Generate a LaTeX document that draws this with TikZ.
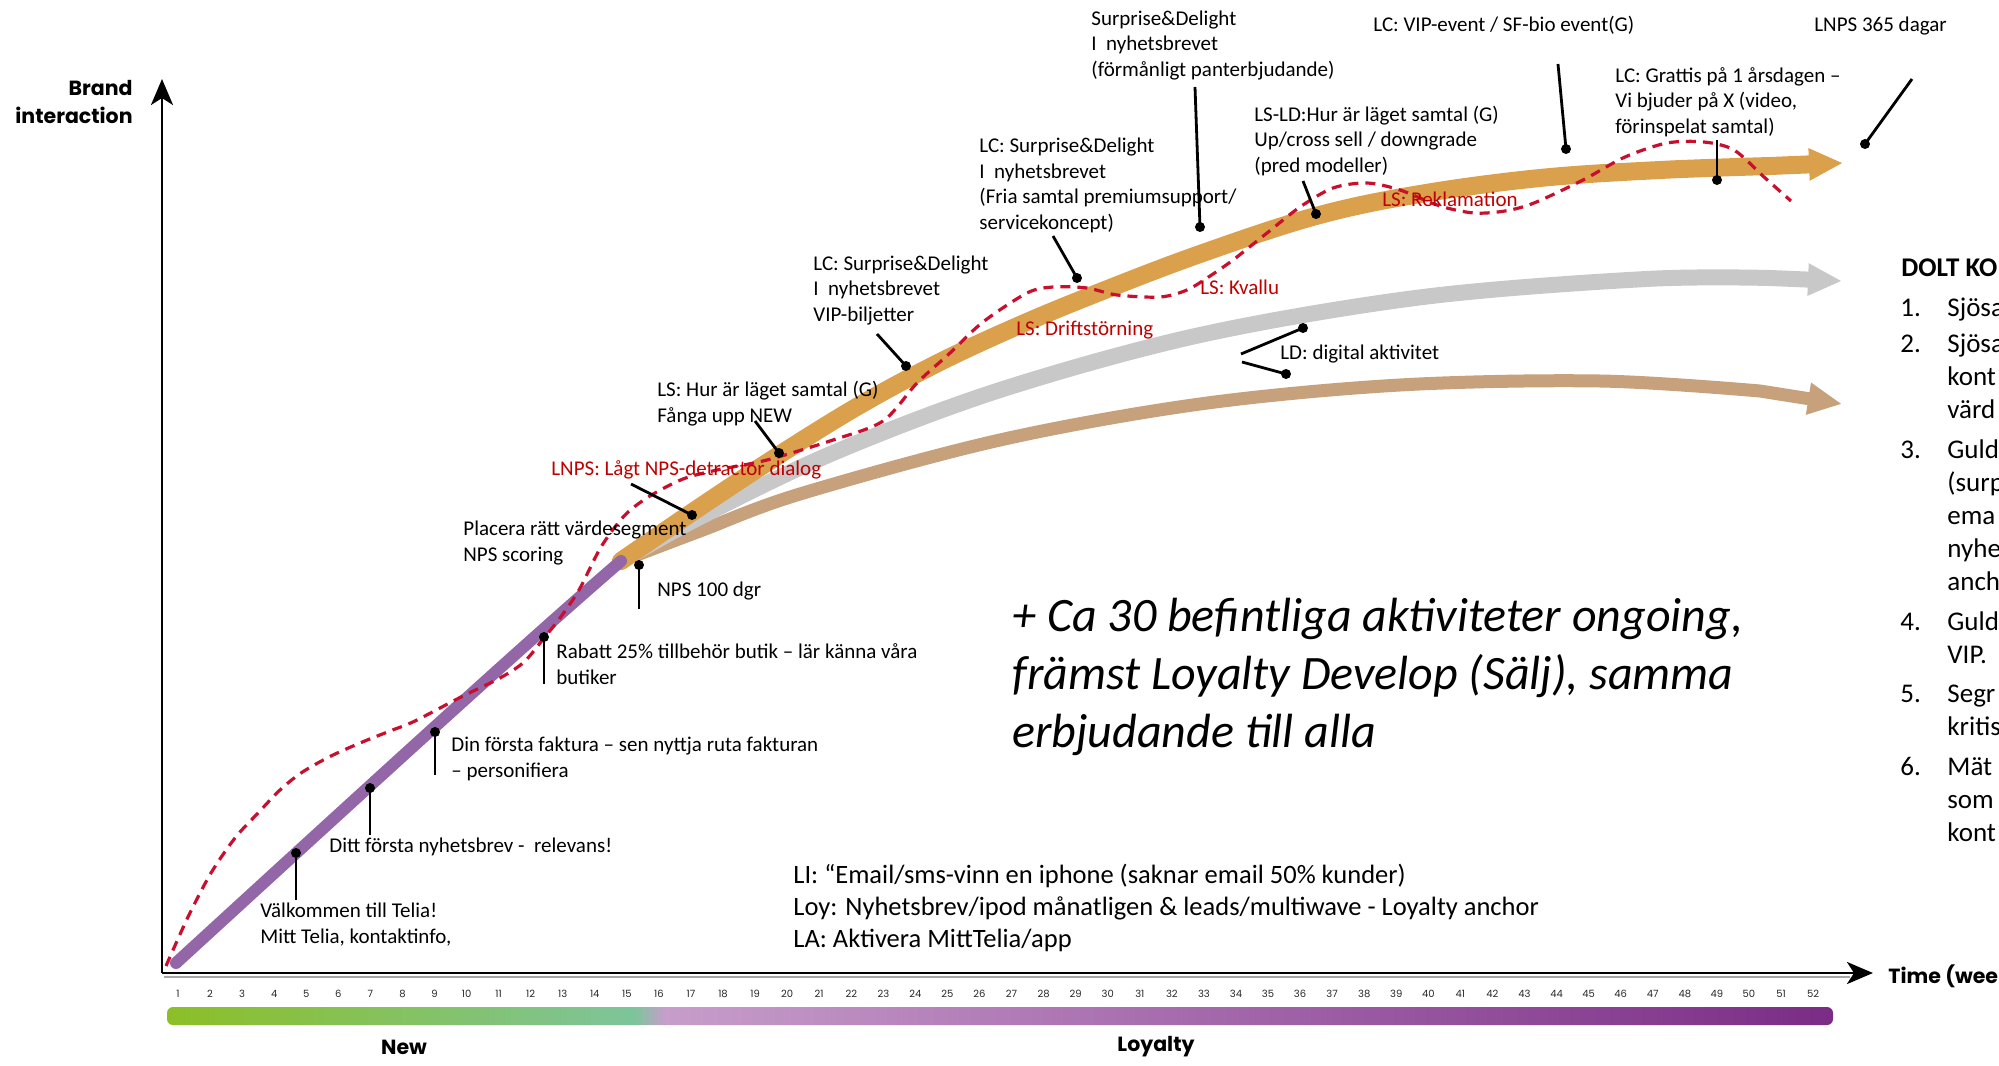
\documentclass[tikz,border=0pt]{standalone}
\usepackage{fontspec}
\setmainfont{Carlito}
\newfontfamily\axisfont{Poppins}
\usetikzlibrary{arrows.meta}

\definecolor{curvepurple}{HTML}{9366A8}
\definecolor{curveorange}{HTML}{DBA04C}
\definecolor{curvegray}{HTML}{C8C8C8}
\definecolor{curvetan}{HTML}{C6A17B}
\definecolor{dashred}{HTML}{C8102E}
\definecolor{notered}{HTML}{C00000}
\definecolor{barGreenA}{HTML}{8CBF26}
\definecolor{barGreenB}{HTML}{7EC49C}
\definecolor{barPurpleA}{HTML}{C79DCB}
\definecolor{barPurpleB}{HTML}{7B2C86}

% multi-line nodes are anchored on the baseline of their last line
\tikzset{
  note/.style={anchor=base west, align=left, inner sep=0pt,
    font=\fontsize{10.5}{12.75}\selectfont},
  rednote/.style={note, text=notered},
  dot/.style={circle, fill=black, inner sep=0pt, minimum size=5pt},
  pointer/.style={line width=1.4pt},
  axisline/.style={line width=1.4pt, -{Stealth[length=13pt,width=11pt,inset=3.5pt]}},
  axislabel/.style={font=\axisfont\bfseries\fontsize{10.25}{14}\selectfont, inner sep=0pt},
  phaselabel/.style={font=\axisfont\bfseries\fontsize{10.25}{12}\selectfont, inner sep=0pt},
  weeknum/.style={font=\axisfont\fontsize{5}{6}\selectfont, text=black!85, inner sep=0pt, anchor=base},
  bandtip/.style={-{Triangle[length=17pt,width=15pt]}},
  listtext/.style={anchor=base west, inner sep=0pt, font=\fontsize{13.5}{16.5}\selectfont},
}

\begin{document}
\begin{tikzpicture}[x=0.5pt, y=-0.5pt]
\useasboundingbox (0,0) rectangle (1999,1066);
\clip (0,0) rectangle (1999,1066);

% ---------- axes ----------
\coordinate (origin) at (162,973);
\coordinate (ytip) at (162,79);
\coordinate (xtip) at (1873,973);
\draw[line width=1pt, black!35] (164,976.5) -- (1850,976.5);
\draw[axisline] (origin) -- (ytip);
\draw[axisline] (origin) -- (xtip);
\node[axislabel, anchor=north east, align=right] (ylab) at (133,80) {Brand\\interaction};
\node[axislabel, anchor=base west] (xlab) at (1888,983) {Time (wee};

% ---------- week scale and phase bar ----------
\foreach \i in {1,...,52} {
  \node[weeknum] (w\i) at ({178+(\i-1)*32.06},997) {\i};
}
\begin{scope}
  \clip[rounded corners=3pt] (167,1007) rectangle (1833,1025);
  \shade[left color=barGreenA, right color=barGreenB] (167,1007) rectangle (636,1025);
  \shade[left color=barGreenB, right color=barPurpleA] (635,1007) rectangle (665,1025);
  \shade[left color=barPurpleA, right color=barPurpleB] (664,1007) rectangle (1833,1025);
\end{scope}
\node[phaselabel] (phNew) at (404,1047) {New};
\node[phaselabel] (phLoy) at (1156,1047) {Loyalty};

% ---------- journey bands ----------
\coordinate (split) at (621,561);
\draw[curvetan, line width=6.5pt, line cap=round, bandtip]
  plot[smooth, tension=0.55] coordinates {(621,561) (700,531) (800,494) (1000,440) (1200,404) (1400,385) (1600,381) (1760,391)} -- (1842,404);
\draw[curvegray, line width=8pt, line cap=round, bandtip]
  plot[smooth, tension=0.55] coordinates {(621,561) (700,517) (833,453) (1000,390) (1200,335) (1423,297) (1646,279) (1770,278)} -- (1842,281);
\draw[curveorange, line width=9pt, line cap=round, bandtip]
  plot[smooth, tension=0.6] coordinates {(621,561) (700,507) (779,455) (860,405) (940,362) (1020,325) (1100,292) (1200,254) (1316,216) (1420,194) (1540,178) (1660,170) (1770,166)} -- (1843,163);
\draw[curvepurple, line width=6pt, line cap=round]
  (176,963) .. controls (330,822) and (520,648) .. (split);

% ---------- actual experience (dashed) ----------
\draw[dashred, line width=1.6pt, dash pattern=on 5pt off 3.5pt]
  plot[smooth, tension=0.5] coordinates {(166,966) (188,917) (211,873) (235,838) (258,813) (280,790) (301,773) (329,757) (360,743) (390,731) (415,721) (461,697) (500,678) (524,662) (544,638) (560,618) (579,590) (601,547) (625,515) (650,496) (683,479) (717,470) (767,460) (833,440) (883,421) (917,383) (950,353) (983,322) (1027,293) (1053,287) (1087,288) (1117,295) (1160,297) (1187,290) (1210,276) (1233,260) (1267,233) (1300,207) (1333,188) (1367,183) (1400,190) (1440,206) (1474,213) (1505,211) (1534,203) (1583,180) (1625,157) (1667,143) (1704,142) (1734,150) (1764,177) (1791,201)};

% ---------- touchpoints ----------
\node[dot] (dWel) at (296,853) {};   \coordinate (sWel) at (296,900);
\node[dot] (dDitt) at (370,788) {};  \coordinate (sDitt) at (370,835);
\node[dot] (dDin) at (435,732) {};   \coordinate (sDin) at (435,775);
\node[dot] (dRab) at (544,637) {};   \coordinate (sRab) at (544,684);
\node[dot] (dNps) at (639,565) {};   \coordinate (sNps) at (639,609);
\node[dot] (dPla) at (692,515) {};   \coordinate (sPla) at (631,484);
\node[dot] (dHur) at (779,453) {};   \coordinate (sHur) at (755,421);
\node[dot] (dVip) at (906,366) {};   \coordinate (sVip) at (877,334);
\node[dot] (dFria) at (1077,278) {}; \coordinate (sFria) at (1053,236);
\node[dot] (dPant) at (1200,227) {}; \coordinate (sPant) at (1195,87);
\node[dot] (dPred) at (1316,214) {}; \coordinate (sPred) at (1303,181);
\node[dot] (dEvent) at (1566,149) {};\coordinate (sEvent) at (1558,64);
\node[dot] (dGrat) at (1717,180) {}; \coordinate (sGrat) at (1717,140);
\node[dot] (dYear) at (1865,144) {}; \coordinate (sYear) at (1912,79);
\node[dot] (dDigA) at (1303,328) {}; \coordinate (sDigA) at (1241,354);
\node[dot] (dDigB) at (1286,374) {}; \coordinate (sDigB) at (1242,362);

\foreach \p in {Wel,Ditt,Din,Rab,Nps,Pla,Hur,Vip,Fria,Pant,Pred,Event,Grat,Year,DigA,DigB}
  \draw[pointer] (d\p.center) -- (s\p);

% ---------- labels (y = baseline of the last line) ----------
\node[note] (tWel) at (260,943) {Välkommen till Telia!\\Mitt Telia, kontaktinfo,};
\node[note] (tDitt) at (329,852) {Ditt första nyhetsbrev -\ \ relevans!};
\node[note] (tDin) at (451,777) {Din första faktura – sen nyttja ruta fakturan\\– personifiera};
\node[note] (tRab) at (556,684) {Rabatt 25\% tillbehör butik – lär känna våra\\butiker};
\node[note] (tNps) at (657,596) {NPS 100 dgr};
\node[note] (tPla) at (463,561) {Placera rätt värdesegment\\NPS scoring};
\node[rednote] (tLnps) at (551,475) {LNPS: Lågt NPS-detractor dialog};
\node[note] (tHur) at (657,422) {LS: Hur är läget samtal (G)\\Fånga upp NEW};
\node[note] (tVip) at (813,321) {LC: Surprise\&Delight\\I\ \ nyhetsbrevet\\VIP-biljetter};
\node[note] (tFria) at (979,229) {LC: Surprise\&Delight\\I\ \ nyhetsbrevet\\(Fria samtal premiumsupport/\\servicekoncept)};
\node[note] (tPant) at (1091,76) {Surprise\&Delight\\I\ \ nyhetsbrevet\\(förmånligt panterbjudande)};
\node[note] (tPred) at (1254,172) {LS-LD:Hur är läget samtal (G)\\Up/cross sell / downgrade\\(pred modeller)};
\node[note] (tEvent) at (1373,31) {LC: VIP-event / SF-bio event(G)};
\node[note] (tGrat) at (1615,133) {LC: Grattis på 1 årsdagen –\\Vi bjuder på X (video,\\förinspelat samtal)};
\node[note] (tYear) at (1814,31) {LNPS 365 dagar};
\node[rednote] (tDrift) at (1016,335) {LS: Driftstörning};
\node[rednote] (tKval) at (1200,294) {LS: Kvallu};
\node[rednote] (tRekl) at (1382,206) {LS: Reklamation};
\node[note] (tDig) at (1280,359) {LD: digital aktivitet};

\node[anchor=base west, align=left, inner sep=0pt, font=\itshape\fontsize{24}{29}\selectfont] (tOngoing) at (1012,747)
  {+ Ca 30 befintliga aktiviteter ongoing,\\främst Loyalty Develop (Sälj), samma\\erbjudande till alla};
\node[anchor=base west, align=left, inner sep=0pt, font=\fontsize{13.25}{16}\selectfont] (tChannels) at (793,947)
  {LI: “Email/sms-vinn en iphone (saknar email 50\% kunder)\\Loy: Nyhetsbrev/ipod månatligen \& leads/multiwave - Loyalty anchor\\LA: Aktivera MittTelia/app};

% ---------- side list ----------
\node[listtext, font=\bfseries\fontsize{13.5}{16.5}\selectfont] (lHead) at (1901,276) {DOLT KO};
\node[listtext] (n1) at (1900,316) {1.};  \node[listtext] (l1a) at (1947,316) {Sjösa};
\node[listtext] (n2) at (1900,352) {2.};  \node[listtext] (l2a) at (1947,352) {Sjösa};
\node[listtext] (l2b) at (1947,385) {kont};
\node[listtext] (l2c) at (1947,418) {värd};
\node[listtext] (n3) at (1900,458) {3.};  \node[listtext] (l3a) at (1947,458) {Guld};
\node[listtext] (l3b) at (1947,491) {(surp};
\node[listtext] (l3c) at (1947,524) {ema};
\node[listtext] (l3d) at (1947,557) {nyhe};
\node[listtext] (l3e) at (1947,590) {anch};
\node[listtext] (n4) at (1900,630) {4.};  \node[listtext] (l4a) at (1947,630) {Guld};
\node[listtext] (l4b) at (1947,663) {VIP.};
\node[listtext] (n5) at (1900,702) {5.};  \node[listtext] (l5a) at (1947,702) {Segr};
\node[listtext] (l5b) at (1947,735) {kritis};
\node[listtext] (n6) at (1900,775) {6.};  \node[listtext] (l6a) at (1947,775) {Mät};
\node[listtext] (l6b) at (1947,808) {som};
\node[listtext] (l6c) at (1947,841) {kont};
\end{tikzpicture}
\end{document}
